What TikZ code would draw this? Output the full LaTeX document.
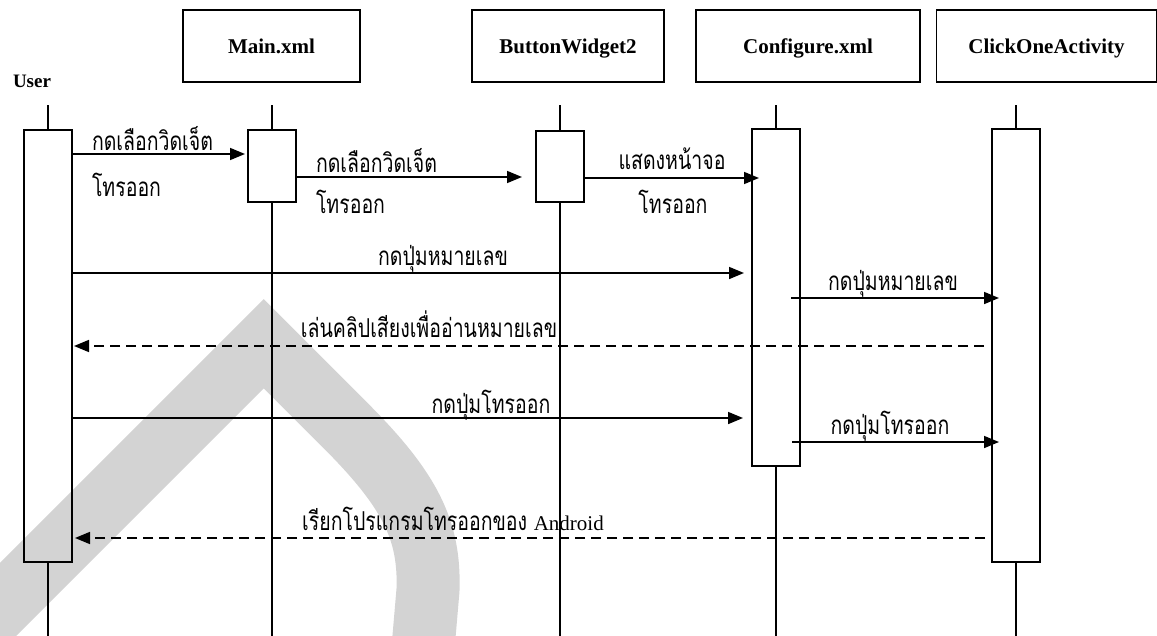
\documentclass[tikz,border=0pt]{standalone}
\usepackage{fontspec}
\setmainfont{Liberation Serif}
\newfontfamily\thaifont[Script=Thai,FakeStretch=0.75]{Loma}
\usetikzlibrary{arrows.meta,calc}

\definecolor{markgray}{RGB}{211,211,211}

\tikzset{
  every node/.style={inner sep=0pt,outer sep=0pt},
  lane/.style={draw,line width=1.6pt,minimum height=72pt,
    text height=18pt,text depth=4pt,
    font=\bfseries\fontsize{21}{24}\selectfont},
  actbox/.style={draw,line width=1.6pt,minimum width=48pt},
  life/.style={line width=1.5pt},
  msg/.style={line width=1.6pt,-{Triangle[length=15pt,width=12pt]}},
  reply/.style={msg,dash pattern=on 10pt off 6pt},
  lbl/.style={font=\thaifont\fontsize{26}{30}\selectfont},
}

\begin{document}
\begin{tikzpicture}[x=1pt,y=-1pt]
\useasboundingbox (0,0) rectangle (1157,635);
\fill[white] (0,0) rectangle (1157,635);
\clip (0,0) rectangle (1157,635);

% faint emblem behind the chart
\draw[markgray,line width=63pt,line join=miter]
  (-40,647.5) -- (263.75,343.75) -- (345,425)
  .. controls (410,490) and (430,530) .. (428,590) -- (422,660);

% object headers
\node[lane,minimum width=177pt] (main)   at (271.5,46) {Main.xml};
\node[lane,minimum width=192pt] (widget) at (568,46)   {ButtonWidget2};
\node[lane,minimum width=224pt] (conf)   at (808,46)   {Configure.xml};
\node[lane,minimum width=220pt] (click)  at (1046.5,46) {ClickOneActivity};
\node[font=\bfseries\fontsize{19}{22}\selectfont,anchor=base west] (user) at (13,87) {User};

% activation bars
\node[actbox,minimum height=432pt] (ua) at (48,346)    {};
\node[actbox,minimum height=72pt]  (ma) at (272,166)   {};
\node[actbox,minimum height=71pt]  (ba) at (560,166.5) {};
\node[actbox,minimum height=337pt] (ca) at (776,297.5) {};
\node[actbox,minimum height=433pt] (ka) at (1016,345.5) {};

% lifelines
\coordinate (ut) at (48,105);   \coordinate (ub) at (48,640);
\coordinate (mt) at (272,105);  \coordinate (mb) at (272,640);
\coordinate (bt) at (560,105);  \coordinate (bb) at (560,640);
\coordinate (ct) at (776,105);  \coordinate (cb) at (776,640);
\coordinate (kt) at (1016,105); \coordinate (kb) at (1016,640);
\draw[life] (ut) -- (ua.north) (ua.south) -- (ub);
\draw[life] (mt) -- (ma.north) (ma.south) -- (mb);
\draw[life] (bt) -- (ba.north) (ba.south) -- (bb);
\draw[life] (ct) -- (ca.north) (ca.south) -- (cb);
\draw[life] (kt) -- (ka.north) (ka.south) -- (kb);

% messages
\draw[msg,shorten >=3pt]  (ua.east |- 0,154) -- (ma.west |- 0,154);
\draw[msg,shorten >=14pt] (ma.east |- 0,177) -- (ba.west |- 0,177);
\draw[msg,shorten >=-7pt] (ba.east |- 0,178) -- (ca.west |- 0,178);
\draw[msg,shorten >=8pt]  (ua.east |- 0,273) -- (ca.west |- 0,273);
\draw[msg,shorten <=-9pt,shorten >=-7pt] (ca.east |- 0,298) -- (ka.west |- 0,298);
\draw[reply,shorten <=8pt,shorten >=2pt] (ka.west |- 0,346) -- (ua.east |- 0,346);
\draw[msg,shorten >=9pt]  (ua.east |- 0,418) -- (ca.west |- 0,418);
\draw[msg,shorten <=-8pt,shorten >=-7pt] (ca.east |- 0,442) -- (ka.west |- 0,442);
\draw[reply,shorten <=7pt,shorten >=3pt] (ka.west |- 0,538) -- (ua.east |- 0,538);

% message labels
\node[lbl,anchor=base west] (l1a) at (92,150)  {กดเลือกวิดเจ็ต};
\node[lbl,anchor=base west] (l1b) at (92,196)  {โทรออก};
\node[lbl,anchor=base west] (l2a) at (316,172) {กดเลือกวิดเจ็ต};
\node[lbl,anchor=base west] (l2b) at (316,213) {โทรออก};
\node[lbl,anchor=base] (l3a) at (672,169) {แสดงหน้าจอ};
\node[lbl,anchor=base] (l3b) at (673,213) {โทรออก};
\node[lbl,anchor=base] (l4)  at (443,265) {กดปุ่มหมายเลข};
\node[lbl,anchor=base] (l5)  at (893,290) {กดปุ่มหมายเลข};
\node[lbl,anchor=base] (l6)  at (429,337) {เล่นคลิปเสียงเพื่ออ่านหมายเลข};
\node[lbl,anchor=base] (l7)  at (491,413) {กดปุ่มโทรออก};
\node[lbl,anchor=base] (l8)  at (890,434) {กดปุ่มโทรออก};
\node[lbl,anchor=base] (l9)  at (453,530)
  {เรียกโปรแกรมโทรออกของ {\rmfamily\fontsize{21}{24}\selectfont Android}};
\end{tikzpicture}
\end{document}
